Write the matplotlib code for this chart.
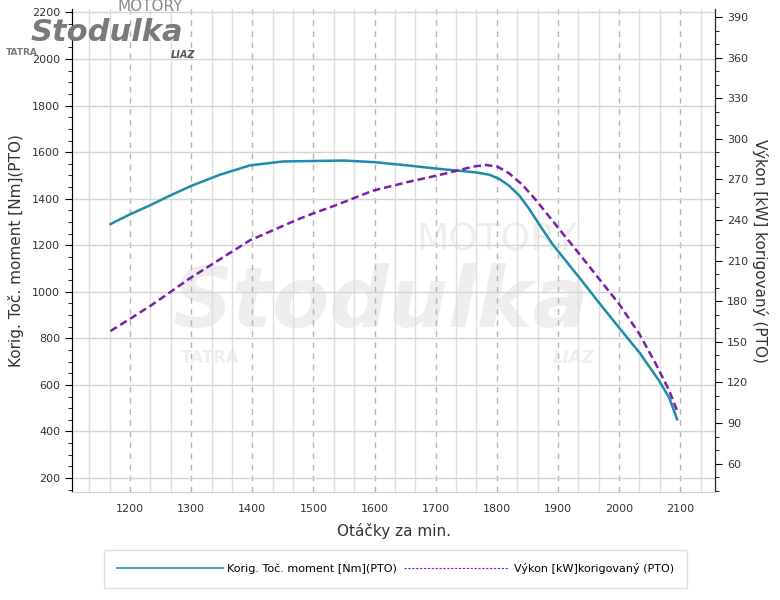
"""Torque / power curve of the engine (Stodulka PTO measurement)."""

import matplotlib

matplotlib.use("Agg")
import matplotlib.pyplot as plt
from matplotlib.ticker import MultipleLocator

# torque curve [Nm]
rpm_torque = [1168, 1200, 1233, 1265, 1300, 1347, 1396, 1450, 1500, 1550, 1600, 1650,
              1706, 1739, 1766, 1788, 1804, 1820, 1837, 1853, 1869, 1891, 1913, 1935,
              1967, 2000, 2033, 2065, 2082, 2095]
torque = [1291, 1333, 1372, 1413, 1455, 1503, 1543, 1560, 1562, 1564, 1557, 1544,
          1528, 1520, 1513, 1503, 1485, 1456, 1413, 1356, 1291, 1205, 1133, 1061,
          954, 846, 740, 620, 545, 452]

# power curve [kW]
rpm_power = [1168, 1200, 1233, 1265, 1298, 1347, 1396, 1472, 1500, 1537, 1597, 1657,
             1706, 1739, 1761, 1782, 1801, 1820, 1842, 1864, 1886, 1908, 1930, 1956,
             2000, 2033, 2060, 2082, 2095]
power = [158, 167, 176.5, 186.5, 197, 211, 225, 240, 245, 251, 261.7, 268.4,
         273.3, 277, 279.5, 280.7, 279.5, 274.6, 266, 254.8, 242.4, 230, 217.8, 203,
         178, 156, 133.8, 114, 99]

x_ticks = [1200, 1300, 1400, 1500, 1600, 1700, 1800, 1900, 2000, 2100]
torque_ticks = [200, 400, 600, 800, 1000, 1200, 1400, 1600, 1800, 2000, 2200]
power_ticks = [60, 90, 120, 150, 180, 210, 240, 270, 300, 330, 360, 390]

TORQUE_COLOR = "#1f8bab"
POWER_COLOR = "#7a1fa6"

fig = plt.figure(figsize=(7.8, 6.0), dpi=100)
ax = fig.add_axes([0.0923, 0.18, 0.8244, 0.805])
ax2 = ax.twinx()

# faint watermark behind the chart
wm = "#eeeeee"
ax.text(0.66, 0.52, "MOTORY", transform=ax.transAxes, fontsize=27, color=wm,
        ha="center", va="center", zorder=0)
ax.text(0.48, 0.39, "Stodulka", transform=ax.transAxes, fontsize=60, color=wm,
        ha="center", va="center", style="italic", weight="bold", zorder=0)
ax.text(0.215, 0.278, "TATRA", transform=ax.transAxes, fontsize=12, color=wm,
        ha="center", va="center", weight="bold", zorder=0)
ax.text(0.78, 0.278, "LIAZ", transform=ax.transAxes, fontsize=12, color=wm,
        ha="center", va="center", weight="bold", style="italic", zorder=0)

ax.set_xlim(1105, 2157)
ax.set_ylim(140, 2215)
ax2.set_ylim(39, 396)

ax.set_xticks(x_ticks)
ax.xaxis.set_minor_locator(MultipleLocator(100 / 3))
ax.set_yticks(torque_ticks)
ax.yaxis.set_minor_locator(MultipleLocator(50))
ax2.set_yticks(power_ticks)
ax2.yaxis.set_minor_locator(MultipleLocator(10))

ax.grid(True, which="major", axis="y", color="#d4d4d4", linewidth=1.0)
ax.grid(True, which="major", axis="x", color="#b4b4b4", linewidth=1.0,
        linestyle=(0, (4, 4)))
ax.grid(True, which="minor", axis="x", color="#dedede", linewidth=1.0)
ax.set_axisbelow(True)

ax.plot(rpm_torque, torque, color=TORQUE_COLOR, linewidth=1.8, zorder=3,
        label="Korig. Toč. moment [Nm](PTO)")
ax2.plot(rpm_power, power, color=POWER_COLOR, linewidth=1.8, zorder=3,
         linestyle=(0, (3, 1.6)), label="Výkon [kW]korigovaný (PTO)")

for a in (ax, ax2):
    a.spines["top"].set_visible(False)
    a.spines["bottom"].set_color("#d0d0d0")
ax.spines["left"].set_color("#222222")
ax2.spines["right"].set_color("#222222")

ax.tick_params(axis="x", which="both", length=0, pad=9, labelsize=8, labelcolor="#333333")
ax.tick_params(axis="y", which="major", length=5, labelsize=8, labelcolor="#333333")
ax.tick_params(axis="y", which="minor", length=3)
ax2.tick_params(axis="y", which="major", length=5, labelsize=8, labelcolor="#333333")
ax2.tick_params(axis="y", which="minor", length=3)

ax.set_xlabel("Otáčky za min.", fontsize=11, color="#333333", labelpad=6)
ax.set_ylabel("Korig. Toč. moment [Nm](PTO)", fontsize=11, color="#333333", labelpad=6)
ax2.set_ylabel("Výkon [kW] korigovaný (PTO)", fontsize=11, color="#333333",
               rotation=-90, labelpad=14)

# logo in the upper-left corner (drawn behind the tick labels)
logo = "#7a7a7a"
fig.text(0.192, 0.989, "MOTORY", fontsize=11, color="#8a8a8a", ha="center", va="center",
         zorder=0)
fig.text(0.137, 0.946, "Stodulka", fontsize=22, color=logo, ha="center", va="center",
         style="italic", weight="bold", zorder=0)
fig.text(0.028, 0.913, "TATRA", fontsize=6.5, color=logo, ha="center", va="center",
         weight="bold", zorder=0)
fig.text(0.235, 0.908, "LIAZ", fontsize=7, color="#555555", ha="center", va="center",
         weight="bold", style="italic", zorder=0)

handles = ax.get_lines() + ax2.get_lines()
handles = [h for h in handles if h.get_label() and not h.get_label().startswith("_")]
leg = fig.legend(handles, [h.get_label() for h in handles], loc="center",
                 bbox_to_anchor=(0.507, 0.052), ncol=2, fontsize=8, frameon=True,
                 fancybox=False, edgecolor="#d8d8d8", handlelength=9.5,
                 handletextpad=0.4, columnspacing=0.6, borderpad=1.2)
leg.get_frame().set_linewidth(1.0)
leg.get_lines()[0].set_linewidth(1.2)
leg.get_lines()[1].set_linewidth(0.8)
leg.get_lines()[1].set_linestyle((0, (2, 1.5)))

fig.savefig("out.png", dpi=100)
